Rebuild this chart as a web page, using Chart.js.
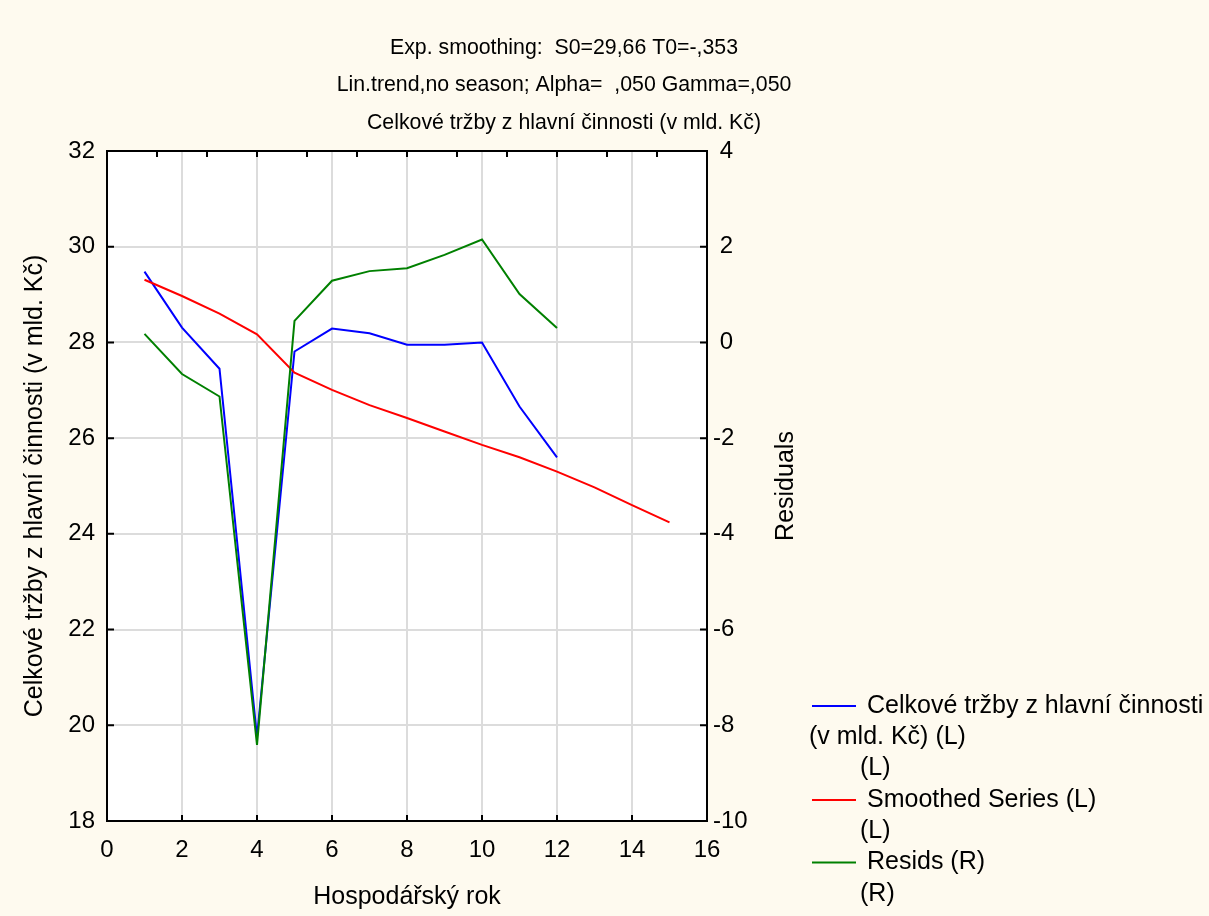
<!DOCTYPE html>
<html lang="cs">
<head>
<meta charset="utf-8">
<title>Exp. smoothing</title>
<script src="https://cdn.jsdelivr.net/npm/chart.js@4.4.1/dist/chart.umd.min.js"></script>
<style>
    html, body { margin: 0; padding: 0; background: #fefaef; }
    #wrap { width: 1209px; height: 916px; position: relative; }
</style>
</head>
<body>
<div id="wrap"><canvas id="smoothingChart" width="1209" height="916"></canvas></div>
<script>
// Data
const roky = [1, 2, 3, 4, 5, 6, 7, 8, 9, 10, 11, 12];
const trzby = [29.48, 28.31, 27.45, 19.76, 27.81, 28.29, 28.19, 27.95, 27.95, 28.0, 26.66, 25.6];

const rokyVyhlazeni = [1, 2, 3, 4, 5, 6, 7, 8, 9, 10, 11, 12, 13, 14, 15];
const vyhlazeno = [29.31, 28.97, 28.6, 28.17, 27.37, 27.01, 26.69, 26.42, 26.14, 25.86, 25.6, 25.3, 24.97, 24.6, 24.24];

const rezidua = [0.18, -0.66, -1.13, -8.41, 0.45, 1.29, 1.49, 1.55, 1.83, 2.15, 1.01, 0.3];

const titleLines = [
    "Exp. smoothing:  S0=29,66 T0=-,353",
    "Lin.trend,no season; Alpha=  ,050 Gamma=,050",
    "Celkové tržby z hlavní činnosti (v mld. Kč)"
];

const legendRows = [
    { color: "#0000ff", text: "Celkové tržby z hlavní činnosti", more: ["(v mld. Kč) (L)", "(L)"] },
    { color: "#ff0000", text: "Smoothed Series (L)", more: ["(L)"] },
    { color: "#008000", text: "Resids (R)", more: ["(R)"] }
];

const FONT = "'Liberation Sans', Arial, Helvetica, sans-serif";

function toPoints(xs, ys) {
    return xs.map((x, i) => ({ x: x, y: ys[i] }));
}

// background, frame, inner ticks, titles and legend
const decorPlugin = {
    id: "decor",
    beforeDraw(chart) {
        const c = chart.ctx;
        const a = chart.chartArea;
        c.save();
        c.fillStyle = "#fefaef";
        c.fillRect(0, 0, chart.width, chart.height);
        c.fillStyle = "#ffffff";
        c.fillRect(a.left, a.top, a.right - a.left, a.bottom - a.top);
        c.restore();
    },
    afterDraw(chart) {
        const c = chart.ctx;
        const a = chart.chartArea;
        const s = chart.scales;
        c.save();

        // ticks pointing into the plot
        c.strokeStyle = "#000";
        c.lineWidth = 2;
        c.beginPath();
        s.x.ticks.forEach(t => {
            const px = s.x.getPixelForValue(t.value);
            c.moveTo(px, a.bottom);
            c.lineTo(px, a.bottom - 6);
        });
        s.xTop.ticks.forEach(t => {
            const px = s.xTop.getPixelForValue(t.value);
            c.moveTo(px, a.top);
            c.lineTo(px, a.top + 6);
        });
        s.y.ticks.forEach(t => {
            const py = s.y.getPixelForValue(t.value);
            c.moveTo(a.left, py);
            c.lineTo(a.left + 7, py);
        });
        s.y1.ticks.forEach(t => {
            const py = s.y1.getPixelForValue(t.value);
            c.moveTo(a.right, py);
            c.lineTo(a.right - 7, py);
        });
        c.stroke();

        // frame
        c.lineWidth = 2;
        c.strokeRect(a.left, a.top, a.right - a.left, a.bottom - a.top);

        // title
        c.fillStyle = "#000";
        c.textAlign = "center";
        c.textBaseline = "middle";
        c.font = "21.3px " + FONT;
        titleLines.forEach((line, i) => {
            c.fillText(line, 564, 48 + i * 37.5);
        });

        // axis titles
        c.font = "25px " + FONT;
        c.fillText("Hospodářský rok", (a.left + a.right) / 2, 897);

        c.save();
        c.translate(35, (a.top + a.bottom) / 2);
        c.rotate(-Math.PI / 2);
        c.fillText("Celkové tržby z hlavní činnosti (v mld. Kč)", 0, 0);
        c.restore();

        c.save();
        c.translate(786, (a.top + a.bottom) / 2);
        c.rotate(-Math.PI / 2);
        c.fillText("Residuals", 0, 0);
        c.restore();

        // legend
        c.textAlign = "left";
        let y = 706;
        legendRows.forEach(row => {
            c.strokeStyle = row.color;
            c.lineWidth = 2;
            c.beginPath();
            c.moveTo(812, y);
            c.lineTo(856, y);
            c.stroke();
            c.fillText(row.text, 867, y);
            row.more.forEach(extra => {
                y += 31.3;
                c.fillText(extra, extra.length > 3 ? 809 : 860, y);
            });
            y += 31.3;
        });

        c.restore();
    }
};

const tickFont = { family: FONT, size: 24 };

const ctx = document.getElementById("smoothingChart").getContext("2d");

let smoothingChart = new Chart(ctx, {
    type: "line",
    data: {
        datasets: [
            {
                label: "Celkové tržby z hlavní činnosti (v mld. Kč) (L)",
                data: toPoints(roky, trzby),
                borderColor: "#0000ff",
                borderWidth: 2,
                yAxisID: "y",
                order: 2
            },
            {
                label: "Smoothed Series (L)",
                data: toPoints(rokyVyhlazeni, vyhlazeno),
                borderColor: "#ff0000",
                borderWidth: 2,
                yAxisID: "y",
                order: 1
            },
            {
                label: "Resids (R)",
                data: toPoints(roky, rezidua),
                borderColor: "#008000",
                borderWidth: 2,
                yAxisID: "y1",
                order: 0
            }
        ]
    },
    options: {
        responsive: false,
        animation: false,
        devicePixelRatio: 1,
        layout: { padding: { top: 151, left: 0, right: 0, bottom: 0 } },
        elements: {
            point: { radius: 0 },
            line: { tension: 0, fill: false }
        },
        plugins: {
            legend: { display: false },
            title: { display: false },
            tooltip: { enabled: false }
        },
        scales: {
            x: {
                type: "linear",
                position: "bottom",
                min: 0,
                max: 16,
                ticks: { stepSize: 2, color: "#000", font: tickFont, padding: 15, maxRotation: 0 },
                grid: { color: "#dcdcdc", lineWidth: 2, drawTicks: false },
                border: { display: false },
                afterFit(scale) { scale.height = 95; }
            },
            xTop: {
                type: "linear",
                position: "top",
                min: 0,
                max: 12,
                ticks: { stepSize: 1, display: false },
                grid: { display: false, drawTicks: false },
                border: { display: false },
                afterFit(scale) { scale.height = 0; }
            },
            y: {
                type: "linear",
                position: "left",
                min: 18,
                max: 32,
                ticks: { stepSize: 2, color: "#000", font: tickFont, padding: 12 },
                grid: { color: "#dcdcdc", lineWidth: 2, drawTicks: false },
                border: { display: false },
                afterFit(scale) { scale.width = 107; }
            },
            y1: {
                type: "linear",
                position: "right",
                min: -10,
                max: 4,
                ticks: {
                    stepSize: 2,
                    color: "#000",
                    font: tickFont,
                    padding: 6,
                    // positive values leave room where the minus sign would be
                    callback: value => (value < 0 ? String(value) : " " + value)
                },
                grid: { drawOnChartArea: false, drawTicks: false },
                border: { display: false },
                afterFit(scale) { scale.width = 502; }
            }
        }
    },
    plugins: [decorPlugin]
});
</script>
</body>
</html>
